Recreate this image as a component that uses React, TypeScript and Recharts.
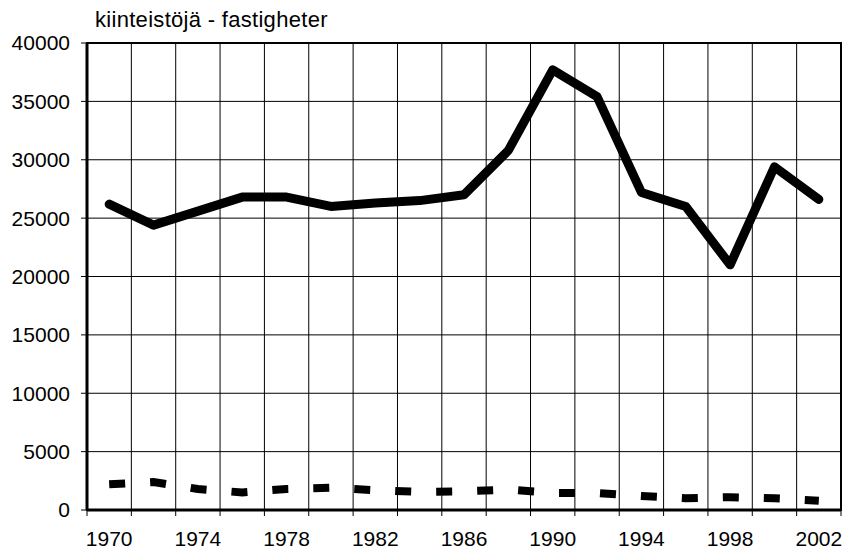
import React from 'react';
import { LineChart, Line, XAxis, YAxis, CartesianGrid, ReferenceArea } from 'recharts';

// years shown on the chart (two-year steps)
const years = [1970, 1972, 1974, 1976, 1978, 1980, 1982, 1984, 1986, 1988, 1990, 1992, 1994, 1996, 1998, 2000, 2002];
// solid line - kiinteistöjä / fastigheter
const solidValues = [26200, 24400, 25600, 26800, 26800, 26000, 26300, 26500, 27000, 30800, 37700, 35400, 27200, 26000, 21000, 29400, 26600];
// dashed line
const dashedValues = [2200, 2400, 1800, 1500, 1800, 1900, 1700, 1550, 1600, 1750, 1450, 1450, 1200, 1000, 1100, 1000, 800];

const yTicks = [0, 5000, 10000, 15000, 20000, 25000, 30000, 35000, 40000];
const labelYears = [1970, 1974, 1978, 1982, 1986, 1990, 1994, 1998, 2002];
// category boundaries (tick marks + vertical grid)
const boundaryYears = [1969, 1971, 1973, 1975, 1977, 1979, 1981, 1983, 1985, 1987, 1989, 1991, 1993, 1995, 1997, 1999, 2001, 2003];

const chartData = years.map((year, i) => ({
  year,
  solid: solidValues[i],
  dashed: dashedValues[i],
}));

const FONT = '"Liberation Sans", Arial, sans-serif';

const App: React.FC = () => {
  return (
    <div style={{ position: 'fixed', top: 0, left: 0, width: 845, height: 551, background: '#fff', fontFamily: FONT }}>
      <div style={{ position: 'absolute', left: 95, top: 7, fontSize: 22, color: '#000', lineHeight: '26px', letterSpacing: 0.3 }}>
        kiinteistöjä - fastigheter
      </div>
      <LineChart width={845} height={551} data={chartData} margin={{ top: 43, right: 4, left: 0, bottom: 0 }}>
        <CartesianGrid stroke="#000" strokeWidth={1} />
        <XAxis
          dataKey="year"
          type="number"
          domain={[1969, 2003]}
          ticks={boundaryYears}
          tickFormatter={() => ''}
          tickSize={6}
          height={8}
          axisLine={{ stroke: '#000', strokeWidth: 3 }}
          tickLine={{ stroke: '#000', strokeWidth: 1 }}
          allowDataOverflow
        />
        <XAxis
          xAxisId="labels"
          dataKey="year"
          type="number"
          domain={[1969, 2003]}
          ticks={labelYears}
          axisLine={false}
          tickLine={false}
          tickSize={0}
          tickMargin={13}
          height={33}
          tick={{ fill: '#000', fontSize: 21, fontFamily: FONT }}
        />
        <YAxis
          type="number"
          domain={[0, 40000]}
          ticks={yTicks}
          width={87}
          tickSize={6}
          tickMargin={11}
          axisLine={{ stroke: '#000', strokeWidth: 3 }}
          tickLine={{ stroke: '#000', strokeWidth: 1 }}
          tick={{ fill: '#000', fontSize: 21, fontFamily: FONT }}
        />
        <ReferenceArea x1={1969} x2={2003} y1={0} y2={40000} fill="none" stroke="#000" strokeWidth={2} />
        <Line
          dataKey="solid"
          stroke="#000"
          strokeWidth={9}
          strokeLinejoin="round"
          strokeLinecap="round"
          dot={false}
          isAnimationActive={false}
        />
        <Line
          dataKey="dashed"
          stroke="#000"
          strokeWidth={8}
          strokeDasharray="16 25"
          dot={false}
          isAnimationActive={false}
        />
      </LineChart>
    </div>
  );
};

export default App;
